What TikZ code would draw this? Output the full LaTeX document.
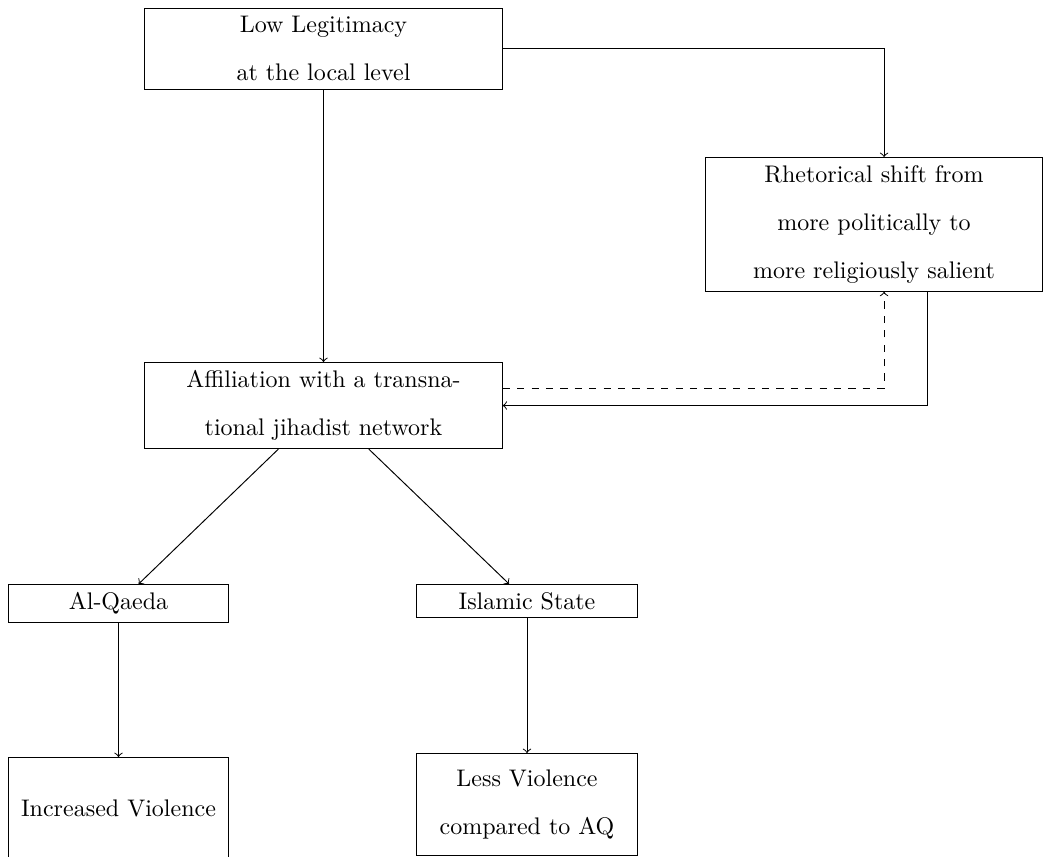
\documentclass[tikz,border=0pt]{standalone}
\usetikzlibrary{positioning}
\begin{document}
\begin{tikzpicture}[x=0.41667pt,y=-0.41667pt,
  box/.style={draw, rectangle, align=center, anchor=north, inner sep=3.333pt,
    font=\fontsize{10pt}{20pt}\selectfont},
  conn/.style={->}]
\useasboundingbox (0,0) rectangle (1052,856);
\node[box, text width=5cm] (low) at (323.5,8) {Low Legitimacy\\at the local level};
\node[box, text width=4.7cm] (rhet) at (874,157) {Rhetorical shift from\\more politically to\\more religiously salient};
\node[box, text width=5cm] (aff) at (323.5,362) {Affiliation with a transna-\\tional jihadist network};
\node[box, text width=3cm] (alq) at (118.5,584) {Al-Qaeda};
\node[box, text width=3cm] (isl) at (527,584) {Islamic State};
\node[box, text width=3cm, minimum height=1.5cm] (inc) at (118.5,757) {Increased Violence};
\node[box, text width=3cm, minimum height=1.5cm] (less) at (527,753) {Less Violence\\compared to AQ};
\draw[conn] (low) -- (aff);
\draw[conn] (low.east) -| ([xshift=4.2pt]rhet.north);
\draw[conn, dashed] ([yshift=7.3pt]aff.east) -| ([xshift=4.2pt]rhet.south);
\draw[conn] ([xshift=22.1pt]rhet.south) |- (aff.east);
\draw[conn] (aff) -- (alq);
\draw[conn] (aff) -- (isl);
\draw[conn] (alq) -- (inc);
\draw[conn] (isl) -- (less);
\end{tikzpicture}
\end{document}
